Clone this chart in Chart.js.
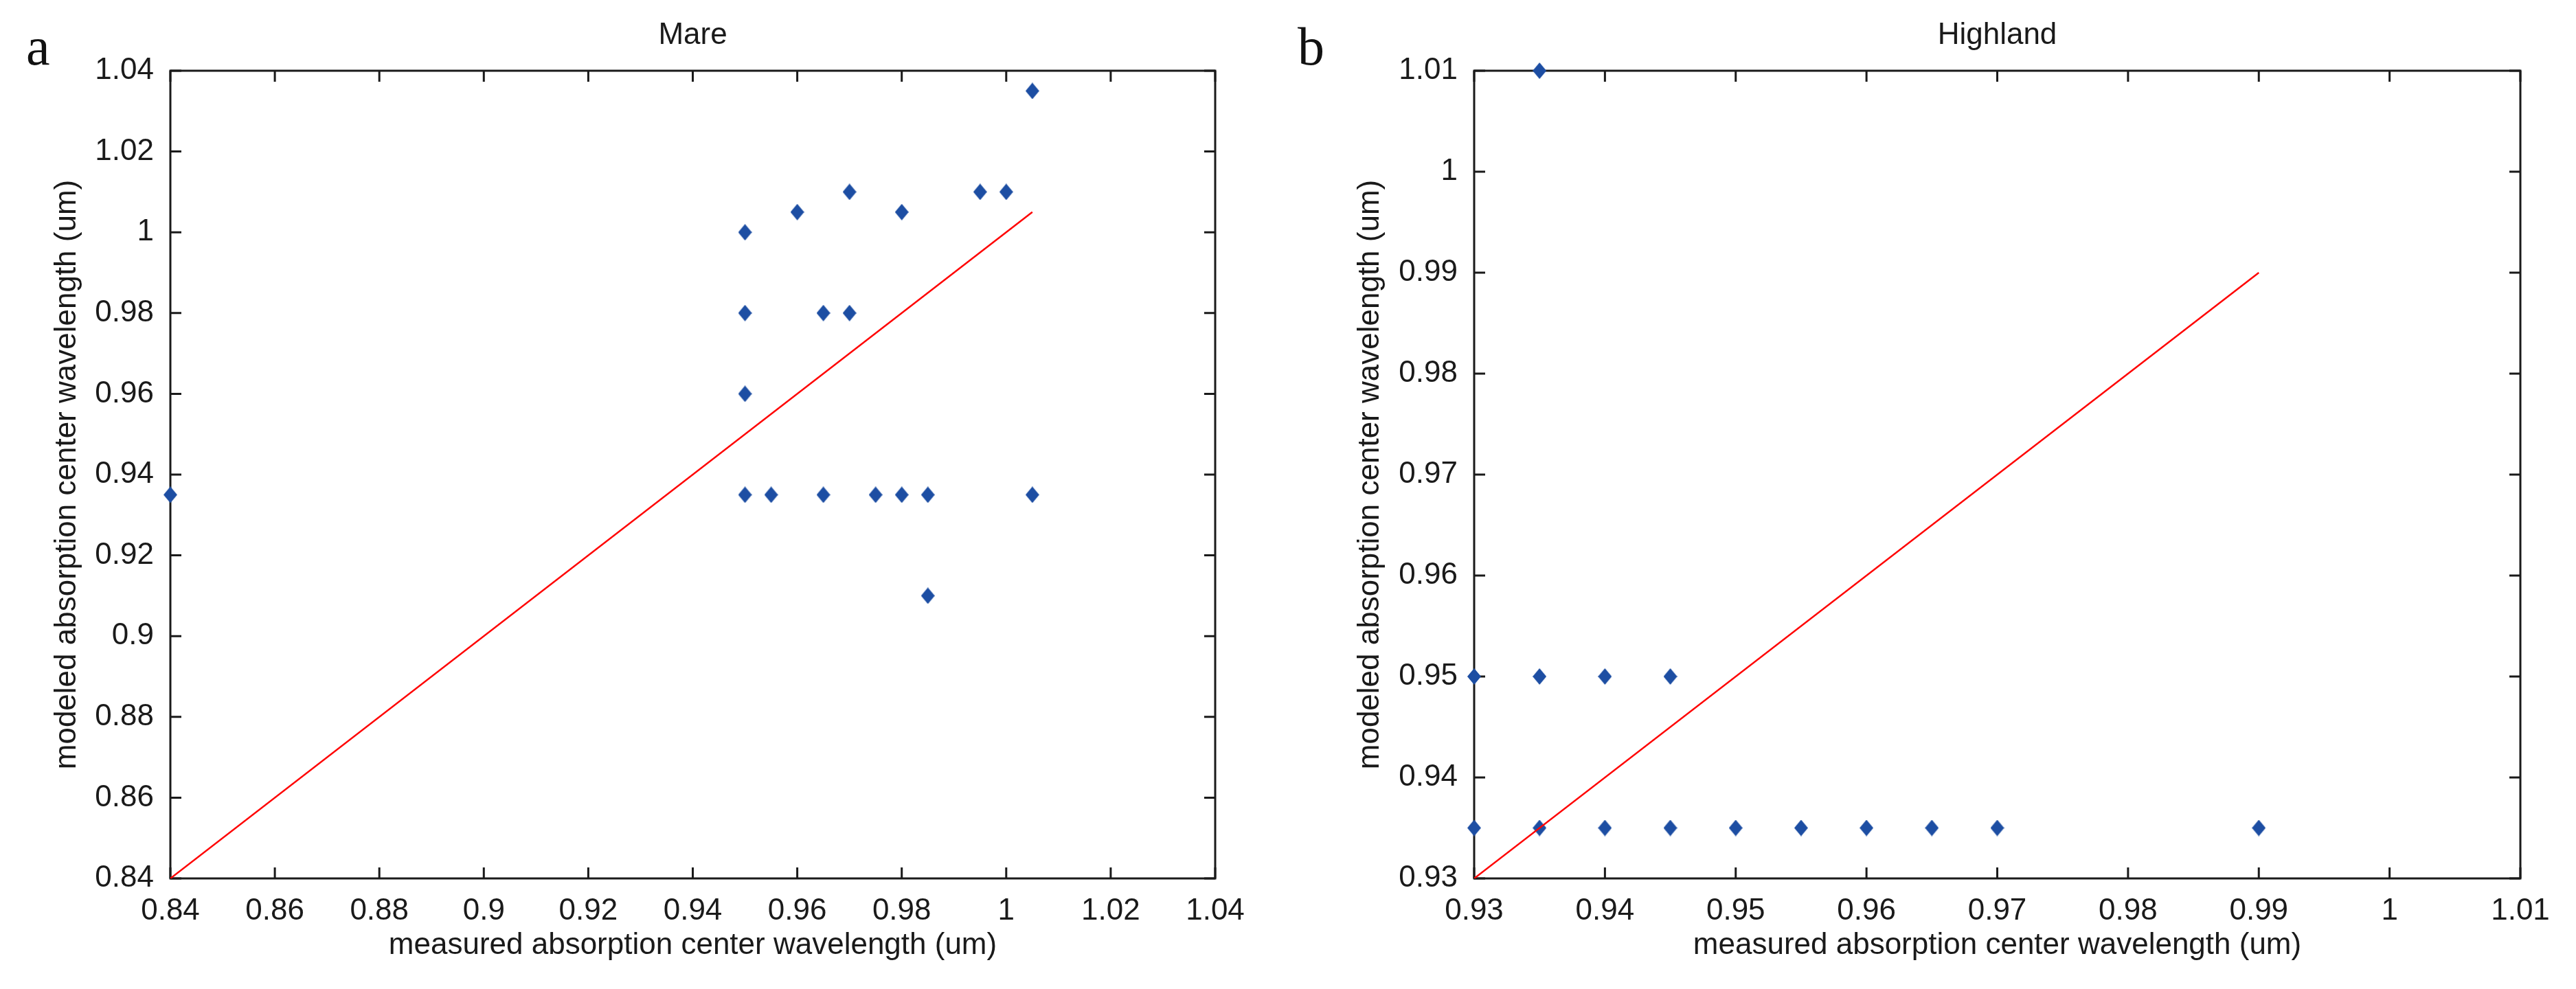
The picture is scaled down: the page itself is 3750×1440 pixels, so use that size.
<!DOCTYPE html>
<html>
<head>
<meta charset="utf-8">
<script src="https://cdn.jsdelivr.net/npm/chart.js@4.4.1/dist/chart.umd.min.js"></script>
<style>
  html, body { margin: 0; padding: 0; background: #fff; }
  #page { position: relative; width: 3750px; height: 1440px; overflow: hidden; }
  canvas { position: absolute; top: 0; }
  #chart-mare { left: 0; }
  #chart-highland { left: 1875px; }
  .panel {
    position: absolute;
    font-family: "Liberation Serif", "Times New Roman", serif;
    font-size: 78px;
    line-height: 78px;
    color: #111;
  }
</style>
</head>
<body>
<div id="page">
  <canvas id="chart-mare" width="1875" height="1440"></canvas>
  <canvas id="chart-highland" width="1875" height="1440"></canvas>
  <div class="panel" style="left:38px; top:29px;">a</div>
  <div class="panel" style="left:1889px; top:29px;">b</div>
</div>
<script>
// Mare: measured vs modeled absorption centre (um)
const mareMeasured = [0.84, 0.95, 0.95, 0.95, 0.95, 0.955, 0.96, 0.965, 0.965, 0.97,
                      0.97, 0.975, 0.98, 0.98, 0.985, 0.985, 0.995, 1.00, 1.005, 1.005];
const mareModeled  = [0.935, 1.00, 0.98, 0.96, 0.935, 0.935, 1.005, 0.98, 0.935, 1.01,
                      0.98, 0.935, 1.005, 0.935, 0.935, 0.91, 1.01, 1.01, 1.035, 0.935];
const mareLine = [0.84, 1.005];
const mareTicks = [0.84, 0.86, 0.88, 0.90, 0.92, 0.94, 0.96, 0.98, 1.00, 1.02, 1.04];

// Highland
const highMeasured = [0.93, 0.93, 0.935, 0.935, 0.935, 0.94, 0.94, 0.945, 0.945,
                      0.95, 0.955, 0.96, 0.965, 0.97, 0.99];
const highModeled  = [0.95, 0.935, 1.01, 0.95, 0.935, 0.95, 0.935, 0.95, 0.935,
                      0.935, 0.935, 0.935, 0.935, 0.935, 0.935];
const highLine = [0.93, 0.99];
const highTicks = [0.93, 0.94, 0.95, 0.96, 0.97, 0.98, 0.99, 1.00, 1.01];

const TEXT = '#1a1a1a';
const FONT = { family: '"Liberation Sans", Arial, sans-serif', size: 44, weight: 'normal', lineHeight: 1.2 };
const TICK_LEN = 16;

// matlab-ish diamond marker, a bit taller than wide
const diamond = document.createElement('canvas');
diamond.width = 20;
diamond.height = 24;
const dctx = diamond.getContext('2d');
dctx.fillStyle = '#1d4ea3';
dctx.beginPath();
dctx.moveTo(10, 0);
dctx.lineTo(20, 12);
dctx.lineTo(10, 24);
dctx.lineTo(0, 12);
dctx.closePath();
dctx.fill();

const fmt = v => parseFloat(Number(v).toFixed(4)).toString();

// box + inward ticks on all four sides
const framePlugin = {
    id: 'frame',
    beforeDatasetsDraw(chart) {
        const { ctx, chartArea: a, scales: { x, y } } = chart;
        ctx.save();
        ctx.strokeStyle = TEXT;
        ctx.lineWidth = 3;
        ctx.beginPath();
        x.ticks.forEach(t => {
            const px = x.getPixelForValue(t.value);
            ctx.moveTo(px, a.bottom);
            ctx.lineTo(px, a.bottom - TICK_LEN);
            ctx.moveTo(px, a.top);
            ctx.lineTo(px, a.top + TICK_LEN);
        });
        y.ticks.forEach(t => {
            const py = y.getPixelForValue(t.value);
            ctx.moveTo(a.left, py);
            ctx.lineTo(a.left + TICK_LEN, py);
            ctx.moveTo(a.right, py);
            ctx.lineTo(a.right - TICK_LEN, py);
        });
        ctx.stroke();
        ctx.strokeRect(a.left, a.top, a.right - a.left, a.bottom - a.top);
        ctx.restore();
    }
};

const makeChart = (id, title, xs, ys, line, ticks, geom) => {
    const points = xs.map((x, i) => ({ x, y: ys[i] }));
    const fit = line.map(v => ({ x: v, y: v }));
    const lo = ticks[0];
    const hi = ticks[ticks.length - 1];
    const setTicks = s => { s.ticks = ticks.map(v => ({ value: v })); };

    return new Chart(document.getElementById(id), {
        type: 'scatter',
        data: {
            datasets: [
                {
                    type: 'line',
                    data: fit,
                    borderColor: '#ff0000',
                    borderWidth: 2.5,
                    pointRadius: 0,
                    showLine: true,
                    order: 0
                },
                {
                    data: points,
                    pointStyle: diamond,
                    pointRadius: 10,
                    clip: false,
                    order: 1
                }
            ]
        },
        options: {
            responsive: false,
            animation: false,
            devicePixelRatio: 1,
            layout: { padding: { top: 0, left: 0, right: geom.padRight, bottom: 37 } },
            plugins: {
                legend: { display: false },
                tooltip: { enabled: false },
                title: {
                    display: true,
                    text: title,
                    fullSize: false,
                    color: TEXT,
                    font: FONT,
                    padding: { top: 25, bottom: 25.2 }
                }
            },
            scales: {
                x: {
                    type: 'linear',
                    min: lo,
                    max: hi,
                    afterBuildTicks: setTicks,
                    afterFit: s => { s.height = 124; },
                    grid: { display: false },
                    border: { display: false },
                    ticks: { autoSkip: false, maxRotation: 0, padding: 13, color: TEXT, font: FONT, callback: fmt },
                    title: {
                        display: true,
                        text: 'measured absorption center wavelength (um)',
                        color: TEXT,
                        font: FONT,
                        padding: { top: 0, bottom: 0 }
                    }
                },
                y: {
                    type: 'linear',
                    min: lo,
                    max: hi,
                    afterBuildTicks: setTicks,
                    afterFit: s => { s.width = geom.yWidth; },
                    grid: { display: false },
                    border: { display: false },
                    ticks: { autoSkip: false, padding: 16, color: TEXT, font: FONT, callback: fmt },
                    title: {
                        display: true,
                        text: 'modeled absorption center wavelength (um)',
                        color: TEXT,
                        font: FONT,
                        padding: { top: geom.yTitleTop, bottom: 0 }
                    }
                }
            }
        },
        plugins: [framePlugin]
    });
};

makeChart('chart-mare', 'Mare', mareMeasured, mareModeled, mareLine, mareTicks,
    { yWidth: 248, yTitleTop: 71.6, padRight: 106 });
makeChart('chart-highland', 'Highland', highMeasured, highModeled, highLine, highTicks,
    { yWidth: 271, yTitleTop: 93.6, padRight: 81 });
</script>
</body>
</html>
